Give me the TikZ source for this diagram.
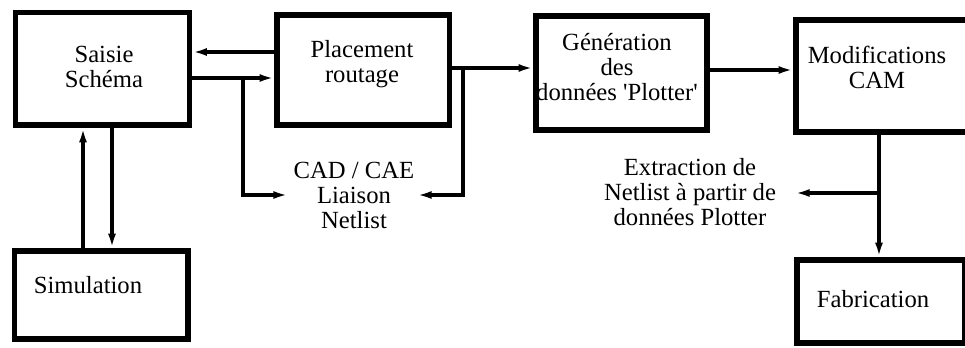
\documentclass[tikz,border=0pt]{standalone}
\usepackage{fontspec}
\setmainfont{Liberation Serif}
\usetikzlibrary{arrows.meta,fit}
\begin{document}
\begin{tikzpicture}[x=0.75pt,y=-0.75pt,
  blk/.style={draw,line width=4.2pt,inner sep=0pt},
  lbl/.style={align=center,inner sep=0pt,font=\fontsize{18.5}{18.5}\selectfont,anchor=base},
  arr/.style={line width=2.6pt,-{Latex[length=11pt,width=6pt]}}]
\useasboundingbox (0,0) rectangle (965,347);
% boxes
\node[blk,fit={(15.5,12.5) (189.5,125)}] (saisie) {};
\node[blk,fit={(277,15) (449.5,125)}] (placement) {};
\node[blk,fit={(536,16) (707,130)}] (generation) {};
\node[blk,fit={(796,20) (972,132)}] (modif) {};
\node[blk,fit={(14.5,251) (188,339)}] (simulation) {};
\node[blk,fit={(797,260) (965,343)}] (fabrication) {};
% texts (anchor = baseline of last line)
\node[lbl] (tsaisie) at (104,87) {Saisie\\Schéma};
\node[lbl] (tplacement) at (362,82) {Placement\\routage};
\node[lbl] (tgeneration) at (617,100) {Génération\\des\\données \textquotesingle Plotter\textquotesingle};
\node[lbl] (tmodif) at (877,88) {Modifications\\CAM};
\node[lbl] (tcad) at (354,228) {CAD / CAE\\Liaison\\Netlist};
\node[lbl] (textr) at (690,225) {Extraction de\\Netlist à partir de\\données Plotter};
\node[lbl] (tsim) at (88,293) {Simulation};
\node[lbl] (tfab) at (873,307) {Fabrication};
% junctions and free ends
\coordinate (j1) at (243,78);
\coordinate (j2) at (463,68);
\coordinate (j3) at (879,193);
\coordinate (cadL) at (288,195);
\coordinate (cadR) at (417,195);
\coordinate (extrR) at (795,193);
% connectors
\draw[arr] (placement.west |- 0,52) -- (saisie.east |- 0,52);
\draw[arr] (saisie.east |- 0,78) -- (placement.west |- 0,78);
\draw[arr] (j1) |- (cadL);
\draw[arr] (placement.east |- 0,68) -- (generation.west |- 0,68);
\draw[arr] (j2) |- (cadR);
\draw[arr] (generation.east |- 0,70) -- (modif.west |- 0,70);
\draw[arr] (879,0 |- modif.south) -- (879,0 |- fabrication.north);
\draw[arr] (j3) -- (extrR);
\draw[arr] (83,0 |- simulation.north) -- (83,0 |- saisie.south);
\draw[arr] (112,0 |- saisie.south) -- (112,0 |- simulation.north);
\end{tikzpicture}
\end{document}
